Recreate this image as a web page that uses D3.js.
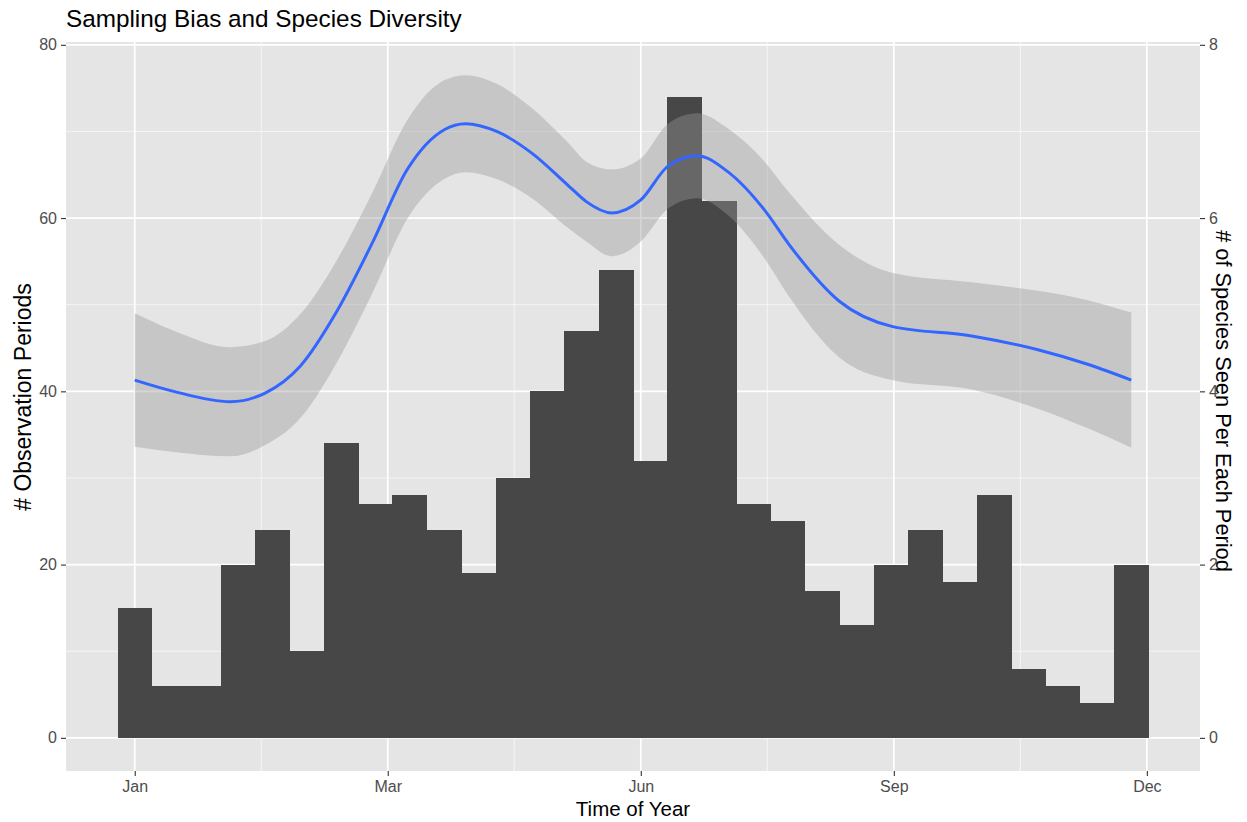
<!DOCTYPE html>
<html>
<head>
<meta charset="utf-8">
<script src="https://cdn.jsdelivr.net/npm/d3@7"></script>
<style>
  html, body { margin: 0; padding: 0; background: #ffffff; }
  svg { display: block; font-family: "Liberation Sans", Arial, Helvetica, sans-serif; }
</style>
</head>
<body>
<svg id="chart" width="1247" height="822"></svg>
<script>
// Observation periods per histogram bin (30 bins over the year, x = week of year)
const binCounts = [15, 6, 6, 20, 24, 10, 34, 27, 28, 24, 19, 30, 40, 47, 54,
                   32, 74, 62, 27, 25, 17, 13, 20, 24, 18, 28, 8, 6, 4, 20];
const weekMin = 0;
const weekMax = 51.2;

// Smoothed species count (loess fit) with its confidence band, by week
const smoothWeeks = [0, 2, 4.9, 6.7, 8.5, 10.4, 12.2, 14.0, 15.9, 17.0, 18.6, 20.4, 22.3, 23.2,
                     24.5, 26.0, 27.4, 28.9, 30.5, 32.4, 33.6, 36.2, 38.9, 43.0, 46.4, 49.0, 51.2];
const smoothMean  = [4.13, 4.00, 3.88, 3.98, 4.29, 4.93, 5.71, 6.56, 7.02, 7.09, 7.00, 6.75, 6.37, 6.19,
                     6.06, 6.21, 6.60, 6.72, 6.53, 6.08, 5.70, 5.04, 4.75, 4.64, 4.48, 4.31, 4.13];
const smoothUpper = [4.90, 4.70, 4.51, 4.58, 4.89, 5.52, 6.29, 7.13, 7.59, 7.65, 7.55, 7.27, 6.86, 6.65,
                     6.56, 6.69, 7.09, 7.21, 7.03, 6.64, 6.30, 5.69, 5.37, 5.26, 5.16, 5.05, 4.91];
const smoothLower = [3.36, 3.30, 3.25, 3.38, 3.69, 4.34, 5.13, 5.99, 6.45, 6.53, 6.45, 6.23, 5.88, 5.73,
                     5.56, 5.73, 6.11, 6.23, 6.03, 5.52, 5.10, 4.39, 4.13, 4.02, 3.80, 3.57, 3.35];

// Axis breaks and labels
const monthBreaks = [0, 13, 26, 39, 52];
const monthLabels = ["Jan", "Mar", "Jun", "Sep", "Dec"];
const countBreaks = [0, 20, 40, 60, 80];
const speciesBreaks = [0, 2, 4, 6, 8];
const speciesScale = 10; // secondary axis: species = count / 10

const titleText = "Sampling Bias and Species Diversity";
const xTitle = "Time of Year";
const yTitle = "# Observation Periods";
const y2Title = "# of Species Seen Per Each Period";

const svg = d3.select("#chart");
const panel = { left: 66, right: 1200, top: 42, bottom: 771 };

// Histogram bins in the ggplot style: centres at the data extremes
const binWidth = (weekMax - weekMin) / (binCounts.length - 1);
const binLo = weekMin - binWidth / 2;
const bins = binCounts.map((c, i) => ({ x0: binLo + i * binWidth, x1: binLo + (i + 1) * binWidth, count: c }));

// Scales with 5% expansion around the data range
const xLo = bins[0].x0, xHi = bins[bins.length - 1].x1;
const xPad = (xHi - xLo) * 0.05;
const x = d3.scaleLinear().domain([xLo - xPad, xHi + xPad]).range([panel.left, panel.right]);

const yDataMax = Math.max(d3.max(binCounts), d3.max(smoothUpper) * speciesScale);
const yPad = yDataMax * 0.05;
const y = d3.scaleLinear().domain([-yPad, yDataMax + yPad]).range([panel.bottom, panel.top]);
const y2 = d3.scaleLinear().domain(y.domain().map(d => d / speciesScale)).range(y.range());

// Panel background
svg.append("rect")
  .attr("x", panel.left).attr("y", panel.top)
  .attr("width", panel.right - panel.left).attr("height", panel.bottom - panel.top)
  .attr("fill", "#E5E5E5");

// Grid lines (minor then major)
const grid = svg.append("g");
const minorX = monthBreaks.slice(0, -1).map((d, i) => (d + monthBreaks[i + 1]) / 2);
const minorY = countBreaks.slice(0, -1).map((d, i) => (d + countBreaks[i + 1]) / 2);
grid.selectAll(".minx").data(minorX).join("line")
  .attr("x1", d => x(d)).attr("x2", d => x(d))
  .attr("y1", panel.top).attr("y2", panel.bottom)
  .attr("stroke", "#F7F7F7").attr("stroke-width", 0.9);
grid.selectAll(".miny").data(minorY).join("line")
  .attr("x1", panel.left).attr("x2", panel.right)
  .attr("y1", d => y(d)).attr("y2", d => y(d))
  .attr("stroke", "#F7F7F7").attr("stroke-width", 0.9);
grid.selectAll(".majx").data(monthBreaks).join("line")
  .attr("x1", d => x(d)).attr("x2", d => x(d))
  .attr("y1", panel.top).attr("y2", panel.bottom)
  .attr("stroke", "#FFFFFF").attr("stroke-width", 1.7);
grid.selectAll(".majy").data(countBreaks).join("line")
  .attr("x1", panel.left).attr("x2", panel.right)
  .attr("y1", d => y(d)).attr("y2", d => y(d))
  .attr("stroke", "#FFFFFF").attr("stroke-width", 1.7);

// Histogram bars
svg.append("g").attr("shape-rendering", "crispEdges")
  .selectAll("rect").data(bins).join("rect")
  .attr("x", d => x(d.x0))
  .attr("width", d => x(d.x1) - x(d.x0) + 0.5)
  .attr("y", d => y(d.count))
  .attr("height", d => y(0) - y(d.count))
  .attr("fill", "#474747");

// Confidence band and smoothed line
const smooth = smoothWeeks.map((w, i) => ({ w, m: smoothMean[i], lo: smoothLower[i], hi: smoothUpper[i] }));
const curve = d3.curveMonotoneX;
svg.append("path")
  .datum(smooth)
  .attr("d", d3.area().x(d => x(d.w)).y0(d => y2(d.lo)).y1(d => y2(d.hi)).curve(curve))
  .attr("fill", "#999999").attr("fill-opacity", 0.4);
svg.append("path")
  .datum(smooth)
  .attr("d", d3.line().x(d => x(d.w)).y(d => y2(d.m)).curve(curve))
  .attr("fill", "none").attr("stroke", "#3366FF").attr("stroke-width", 3);

// Axes
const tickColor = "#333333", labelColor = "#4D4D4D";
function styleAxis(g) {
  g.select(".domain").remove();
  g.selectAll(".tick line").attr("stroke", tickColor).attr("stroke-width", 1.1);
  g.selectAll(".tick text").attr("fill", labelColor).attr("font-size", 16)
    .attr("font-family", "Liberation Sans, Arial, sans-serif");
}
svg.append("g").attr("transform", `translate(0,${panel.bottom})`)
  .call(d3.axisBottom(x).tickValues(monthBreaks).tickFormat((d, i) => monthLabels[i]).tickSize(5).tickPadding(5))
  .call(styleAxis);
svg.append("g").attr("transform", `translate(${panel.left},0)`)
  .call(d3.axisLeft(y).tickValues(countBreaks).tickSize(5).tickPadding(4))
  .call(styleAxis);
svg.append("g").attr("transform", `translate(${panel.right},0)`)
  .call(d3.axisRight(y2).tickValues(speciesBreaks).tickSize(5).tickPadding(4))
  .call(styleAxis);

// Titles
svg.append("text").attr("x", panel.left).attr("y", 27)
  .attr("font-size", 24.3).attr("fill", "#000").text(titleText);
svg.append("text").attr("x", (panel.left + panel.right) / 2).attr("y", 816)
  .attr("text-anchor", "middle").attr("font-size", 20.5).attr("fill", "#000").text(xTitle);
svg.append("text")
  .attr("transform", "translate(31,397) rotate(-90)")
  .attr("text-anchor", "middle").attr("font-size", 23).attr("fill", "#000").text(yTitle);
svg.append("text")
  .attr("transform", "translate(1216,401) rotate(90)")
  .attr("text-anchor", "middle").attr("font-size", 21.8).attr("fill", "#000").text(y2Title);
</script>
</body>
</html>
